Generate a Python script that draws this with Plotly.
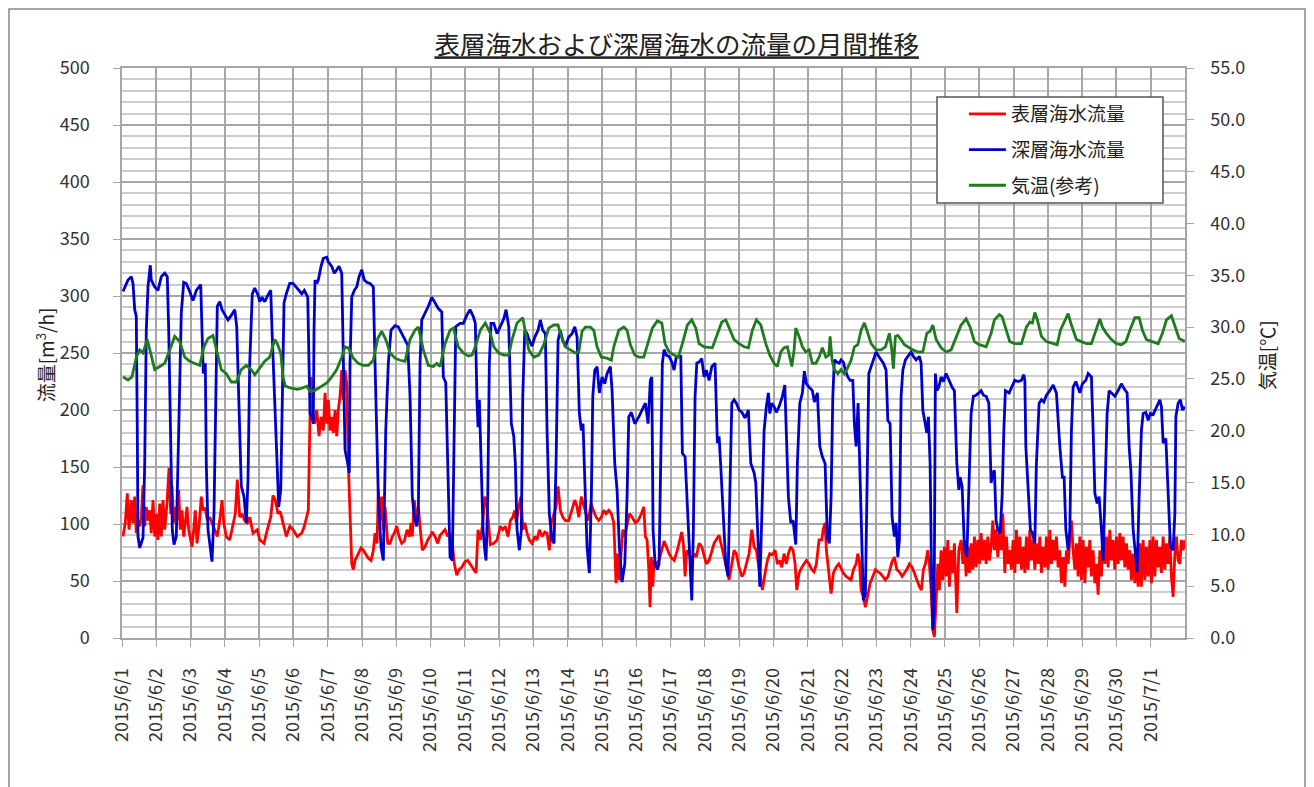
import pandas as pd
import plotly.graph_objects as go

# hours since 2015/6/1 00:00, value
surface_flow = [
    (0.7, 89), (2.3, 101), (3.7, 127), (4.9, 95), (6.5, 121), (7.7, 101), (8.9, 124), (10.0, 92),
    (11.2, 103), (12.4, 98), (13.5, 106), (14.7, 134), (15.9, 98), (17.0, 115), (18.2, 103), (19.4, 112),
    (20.5, 92), (21.7, 121), (22.9, 89), (24.0, 109), (25.2, 86), (26.4, 118), (27.5, 89), (28.7, 121),
    (29.9, 95), (31.5, 118), (32.9, 149), (34.1, 109), (35.0, 133), (36.2, 101), (37.3, 115), (38.5, 103),
    (39.7, 130), (40.8, 95), (42.0, 112), (43.2, 89), (44.3, 101), (45.5, 115), (46.7, 95), (47.8, 86),
    (49.0, 80), (50.2, 95), (51.3, 112), (52.5, 83), (53.9, 98), (55.5, 124), (56.7, 112), (58.3, 114),
    (59.7, 103), (61.4, 106), (63.0, 101), (64.9, 95), (66.7, 89), (68.4, 103), (70.0, 121), (71.2, 101),
    (73.0, 89), (75.4, 86), (77.7, 98), (79.3, 109), (80.7, 139), (82.4, 106), (84.0, 109), (85.9, 103),
    (87.7, 101), (89.4, 106), (91.7, 92), (94.7, 95), (96.4, 86), (99.4, 83), (101.7, 95), (104.1, 106),
    (105.7, 125), (107.3, 121), (109.2, 109), (110.8, 111), (112.7, 101), (115.0, 89), (117.4, 98), (119.7, 95),
    (122.7, 89), (125.8, 92), (127.6, 98), (129.3, 106), (130.4, 112), (131.4, 182), (132.3, 229), (133.3, 197),
    (134.7, 188), (136.3, 200), (137.9, 177), (139.3, 194), (140.9, 182), (142.1, 215), (143.3, 188), (144.4, 209),
    (145.6, 182), (146.8, 194), (147.9, 180), (149.1, 200), (150.3, 177), (151.4, 200), (152.6, 212), (153.8, 235),
    (154.9, 209), (156.1, 235), (157.3, 223), (158.4, 153), (159.6, 106), (160.8, 65), (161.9, 60), (163.1, 68),
    (165.4, 74), (167.3, 79), (168.9, 77), (170.6, 73), (172.4, 70), (174.3, 68), (175.9, 77), (177.1, 92),
    (178.5, 83), (179.4, 130), (180.6, 103), (181.8, 124), (182.9, 95), (184.1, 115), (186.0, 83), (187.6, 83),
    (189.2, 89), (190.6, 92), (192.3, 98), (193.9, 89), (195.8, 83), (197.6, 85), (199.5, 95), (201.1, 89),
    (202.3, 101), (203.2, 89), (204.6, 121), (206.0, 103), (207.4, 115), (208.8, 95), (210.2, 77), (212.1, 80),
    (214.0, 86), (215.6, 89), (217.2, 93), (219.1, 89), (221.0, 83), (222.6, 90), (224.2, 92), (226.1, 95),
    (228.0, 89), (229.6, 92), (231.2, 83), (232.6, 65), (234.3, 55), (235.9, 60), (237.8, 62), (240.1, 67),
    (242.0, 68), (243.6, 65), (245.9, 60), (247.8, 57), (249.2, 95), (250.8, 86), (252.5, 101), (253.9, 124),
    (255.5, 115), (256.7, 101), (257.8, 82), (260.2, 83), (262.5, 86), (264.8, 98), (266.5, 95), (268.3, 98),
    (270.2, 89), (271.8, 103), (273.5, 106), (274.9, 112), (276.0, 101), (277.7, 115), (279.3, 124), (280.5, 95),
    (281.9, 101), (283.5, 92), (285.1, 86), (287.0, 83), (288.9, 89), (290.5, 86), (292.1, 95), (294.0, 89),
    (295.9, 93), (297.5, 92), (299.1, 77), (300.5, 101), (302.2, 109), (303.8, 115), (305.2, 133), (306.8, 112),
    (308.5, 106), (310.3, 103), (312.7, 103), (315.0, 112), (316.9, 121), (318.5, 115), (319.7, 106), (321.5, 124),
    (323.2, 115), (324.8, 109), (326.4, 103), (328.3, 118), (329.9, 112), (331.8, 106), (333.7, 103), (335.5, 106),
    (337.2, 112), (338.8, 109), (340.7, 112), (342.5, 109), (344.2, 101), (344.9, 83), (345.8, 48), (346.7, 74),
    (348.1, 51), (349.5, 77), (350.5, 95), (351.9, 89), (353.5, 101), (355.1, 109), (357.0, 106), (359.3, 101),
    (361.2, 103), (363.5, 109), (365.2, 115), (366.3, 89), (367.5, 86), (368.7, 60), (369.6, 27), (370.5, 71),
    (371.5, 45), (372.4, 68), (374.0, 65), (375.9, 68), (377.8, 77), (379.4, 85), (381.0, 80), (382.9, 74),
    (384.8, 70), (386.5, 68), (388.7, 77), (390.4, 86), (391.7, 93), (392.9, 83), (394.1, 54), (395.3, 77),
    (396.9, 74), (398.8, 68), (400.4, 74), (402.0, 71), (403.9, 83), (405.8, 80), (407.4, 71), (409.0, 65),
    (410.9, 68), (412.8, 77), (414.4, 83), (416.3, 87), (417.9, 90), (419.8, 80), (421.4, 71), (423.0, 62),
    (424.9, 51), (426.8, 65), (428.4, 77), (430.0, 74), (431.9, 62), (433.8, 54), (435.4, 57), (437.0, 65),
    (438.9, 74), (440.8, 95), (442.4, 80), (444.0, 77), (445.9, 60), (447.3, 48), (448.2, 42), (450.1, 57),
    (451.7, 68), (453.4, 74), (455.2, 73), (457.1, 77), (458.7, 65), (460.4, 68), (461.8, 62), (463.4, 74),
    (465.0, 65), (466.4, 74), (468.1, 80), (469.7, 77), (471.1, 65), (472.3, 42), (473.9, 57), (475.8, 62),
    (477.4, 65), (479.0, 68), (480.9, 65), (482.8, 60), (484.4, 58), (486.0, 65), (487.9, 86), (489.8, 86),
    (490.7, 95), (492.1, 101), (493.0, 77), (494.4, 62), (496.3, 39), (497.9, 57), (499.8, 62), (501.7, 65),
    (503.3, 61), (504.9, 57), (506.8, 54), (508.7, 52), (510.3, 51), (511.9, 60), (513.8, 65), (515.0, 74),
    (516.1, 68), (517.3, 42), (518.9, 36), (520.3, 27), (522.0, 39), (523.6, 48), (525.5, 54), (527.3, 60),
    (529.0, 58), (530.6, 57), (532.5, 54), (534.3, 51), (536.2, 54), (537.6, 62), (539.0, 67), (540.6, 71),
    (542.3, 60), (544.1, 58), (546.0, 54), (547.6, 57), (549.3, 60), (551.1, 65), (553.0, 62), (554.6, 57),
    (556.3, 51), (558.1, 45), (559.5, 42), (560.9, 60), (562.3, 65), (564.0, 77), (565.1, 65), (566.3, 42),
    (567.5, 7), (568.6, 1), (571.0, 65), (572.1, 42), (573.3, 77), (574.5, 51), (575.6, 80), (576.8, 54),
    (578.0, 86), (579.1, 45), (580.3, 77), (581.5, 57), (582.6, 83), (584.3, 22), (585.7, 77), (587.3, 86),
    (588.5, 65), (589.6, 86), (590.8, 54), (592.0, 80), (593.1, 57), (594.3, 83), (595.5, 60), (596.6, 89),
    (597.8, 62), (599.0, 86), (600.1, 65), (601.3, 92), (602.5, 68), (603.6, 86), (604.8, 65), (606.0, 89),
    (607.1, 68), (608.3, 80), (609.5, 103), (610.6, 77), (611.8, 95), (613.0, 71), (614.1, 92), (615.3, 77),
    (616.5, 109), (617.9, 57), (619.0, 89), (620.2, 65), (621.4, 77), (622.5, 60), (623.7, 86), (624.9, 57),
    (626.0, 95), (627.2, 65), (628.4, 89), (629.5, 60), (630.7, 80), (631.9, 57), (633.0, 89), (634.2, 60),
    (635.4, 95), (636.5, 68), (637.7, 86), (638.9, 60), (640.0, 83), (641.2, 65), (642.4, 89), (643.5, 57),
    (644.7, 80), (645.9, 62), (647.0, 89), (648.2, 60), (649.4, 95), (650.5, 65), (651.7, 86), (652.9, 68),
    (654.0, 89), (655.2, 62), (656.4, 77), (657.5, 48), (658.7, 71), (659.9, 45), (661.0, 77), (662.2, 65),
    (663.4, 86), (664.5, 103), (665.7, 77), (666.9, 60), (668.0, 83), (669.2, 54), (670.4, 89), (671.5, 51),
    (672.7, 86), (673.9, 48), (675.0, 80), (676.2, 62), (677.4, 86), (678.5, 54), (679.7, 77), (680.9, 48),
    (682.0, 65), (683.2, 38), (684.4, 77), (685.5, 54), (686.7, 95), (687.9, 65), (689.0, 89), (690.2, 62),
    (691.4, 95), (692.5, 68), (693.7, 86), (694.9, 60), (696.0, 89), (697.2, 65), (698.4, 92), (699.5, 68),
    (700.7, 89), (701.9, 62), (703.0, 83), (704.2, 60), (705.4, 77), (706.5, 51), (707.7, 74), (708.9, 48),
    (710.0, 77), (711.2, 45), (712.4, 83), (713.5, 45), (714.7, 86), (715.9, 51), (717.0, 80), (718.2, 54),
    (719.4, 86), (720.5, 48), (721.7, 89), (722.9, 54), (724.0, 86), (725.2, 62), (726.4, 80), (727.5, 57),
    (728.7, 89), (729.9, 60), (731.0, 83), (732.2, 65), (733.4, 89), (734.5, 54), (735.7, 36), (736.9, 74),
    (738.0, 89), (739.2, 68), (740.4, 65), (741.5, 86), (742.7, 77), (743.9, 86),
]

deep_flow = [
    (0.7, 304), (4.2, 314), (6.5, 317), (7.7, 311), (8.9, 288), (10.0, 282), (10.7, 182), (11.2, 89),
    (12.4, 79), (14.7, 88), (15.9, 153), (17.0, 270), (18.2, 308), (19.8, 327), (20.5, 314), (22.9, 308),
    (25.2, 305), (27.5, 317), (29.9, 320), (31.7, 317), (32.7, 270), (34.1, 182), (35.2, 95), (36.4, 82),
    (38.0, 89), (39.7, 182), (41.5, 285), (43.2, 312), (45.0, 311), (47.4, 304), (49.7, 296), (52.0, 305),
    (55.1, 310), (56.0, 270), (56.9, 232), (58.3, 241), (59.0, 153), (60.2, 95), (62.1, 77), (63.0, 67),
    (64.4, 110), (65.6, 226), (66.7, 291), (68.4, 295), (70.0, 288), (72.3, 283), (74.2, 279), (76.5, 283),
    (78.9, 288), (80.3, 273), (81.7, 212), (83.5, 133), (85.4, 124), (87.0, 101), (88.2, 139), (89.4, 241),
    (91.2, 302), (92.9, 307), (95.2, 301), (96.4, 295), (98.0, 299), (99.9, 295), (102.2, 301), (104.1, 305),
    (105.0, 270), (106.9, 212), (108.3, 153), (109.7, 115), (111.1, 130), (112.2, 212), (113.4, 294), (115.0, 302),
    (117.4, 311), (119.7, 311), (123.4, 305), (125.8, 302), (127.6, 305), (130.0, 299), (130.9, 241), (131.6, 197),
    (132.8, 194), (133.9, 188), (134.4, 270), (135.1, 314), (136.3, 311), (137.4, 314), (139.3, 326), (140.9, 333),
    (143.3, 334), (144.4, 330), (146.8, 326), (148.6, 320), (150.3, 323), (151.9, 326), (153.8, 320), (154.9, 241),
    (156.1, 165), (158.0, 153), (159.1, 145), (159.6, 241), (160.8, 299), (162.6, 305), (164.3, 308), (165.9, 317),
    (167.8, 323), (169.6, 314), (171.3, 312), (173.6, 311), (175.9, 308), (177.1, 241), (179.4, 124), (181.3, 80),
    (182.9, 68), (184.6, 182), (186.4, 241), (188.3, 270), (191.1, 274), (193.4, 273), (195.8, 267), (198.1, 261),
    (200.0, 257), (201.6, 212), (203.2, 124), (204.6, 106), (206.3, 98), (207.4, 110), (208.6, 241), (209.8, 279),
    (212.1, 285), (214.4, 291), (216.8, 299), (219.1, 294), (221.4, 289), (223.8, 286), (224.9, 229), (226.6, 224),
    (228.0, 153), (229.6, 71), (231.2, 68), (232.6, 212), (233.6, 273), (236.6, 276), (238.9, 276), (241.3, 283),
    (243.6, 288), (245.9, 282), (247.3, 276), (248.5, 206), (249.2, 185), (250.1, 209), (251.5, 153), (252.7, 95),
    (253.9, 77), (254.8, 68), (256.0, 124), (257.1, 241), (258.3, 276), (260.2, 276), (262.5, 267), (264.8, 273),
    (267.2, 280), (268.8, 288), (270.7, 273), (272.5, 188), (274.2, 177), (275.3, 153), (276.5, 95), (278.1, 77),
    (279.5, 95), (280.5, 212), (281.9, 270), (283.5, 267), (285.1, 261), (287.0, 256), (288.9, 264), (291.2, 270),
    (292.8, 279), (294.5, 270), (296.3, 267), (297.5, 182), (299.1, 109), (301.0, 86), (302.4, 83), (303.8, 153),
    (305.2, 261), (306.8, 270), (308.5, 261), (310.3, 256), (312.7, 264), (315.0, 267), (316.9, 273), (318.5, 264),
    (320.1, 197), (321.5, 182), (322.7, 188), (323.9, 139), (325.5, 80), (327.1, 57), (328.5, 124), (329.5, 212),
    (330.9, 235), (332.5, 238), (334.1, 215), (336.0, 229), (337.9, 223), (339.5, 232), (341.8, 238), (343.0, 217),
    (344.9, 153), (346.5, 130), (348.1, 80), (350.0, 49), (351.9, 65), (353.5, 124), (354.7, 194), (356.5, 198),
    (358.9, 188), (361.7, 194), (364.0, 200), (366.3, 206), (368.2, 188), (369.8, 226), (370.8, 229), (371.7, 95),
    (373.1, 65), (374.7, 60), (375.9, 65), (377.1, 153), (378.2, 241), (379.4, 253), (381.0, 248), (382.9, 247),
    (384.8, 242), (386.4, 235), (388.0, 247), (391.1, 247), (392.2, 162), (394.1, 159), (395.7, 118), (397.4, 71),
    (398.8, 33), (399.9, 95), (401.1, 212), (402.3, 241), (403.9, 242), (405.8, 245), (407.4, 229), (409.0, 235),
    (410.9, 226), (412.8, 238), (415.1, 241), (416.7, 171), (417.9, 177), (419.1, 150), (420.7, 109), (422.6, 65),
    (424.2, 54), (425.4, 124), (426.8, 206), (428.4, 209), (430.0, 206), (431.9, 200), (433.8, 198), (436.1, 193),
    (438.4, 200), (440.1, 153), (442.4, 145), (443.6, 136), (444.7, 95), (446.4, 45), (448.2, 124), (449.4, 182),
    (451.0, 203), (452.4, 215), (453.4, 197), (454.8, 206), (456.4, 203), (458.0, 198), (459.9, 203), (462.2, 212),
    (463.9, 222), (465.0, 182), (466.4, 124), (468.1, 101), (469.7, 103), (471.6, 82), (472.7, 153), (474.4, 206),
    (476.2, 215), (477.6, 234), (479.0, 223), (480.9, 220), (483.2, 217), (484.6, 207), (486.7, 215), (488.4, 168),
    (490.2, 159), (492.1, 153), (493.7, 88), (495.1, 83), (496.3, 124), (497.5, 212), (498.6, 244), (500.3, 242),
    (502.1, 241), (503.3, 244), (504.9, 242), (506.3, 235), (508.0, 229), (509.6, 226), (511.5, 226), (512.6, 188),
    (513.8, 168), (515.2, 206), (516.1, 168), (517.3, 95), (518.9, 33), (520.3, 39), (521.5, 153), (522.7, 232),
    (524.3, 238), (525.9, 244), (527.8, 251), (529.7, 247), (531.3, 244), (532.9, 241), (534.8, 235), (536.0, 191),
    (537.6, 188), (539.0, 106), (540.6, 89), (541.8, 101), (543.0, 71), (544.1, 86), (545.3, 212), (546.5, 235),
    (548.3, 244), (550.0, 247), (552.3, 251), (553.9, 247), (555.8, 244), (558.1, 247), (559.3, 241), (560.5, 200),
    (562.1, 188), (563.3, 180), (564.4, 194), (565.6, 153), (566.5, 65), (567.5, 7), (568.4, 22), (569.3, 232),
    (570.3, 217), (571.7, 220), (573.3, 229), (574.9, 225), (576.8, 232), (578.7, 226), (581.0, 220), (582.6, 217),
    (584.3, 153), (585.7, 130), (586.6, 141), (588.0, 133), (589.6, 80), (591.3, 71), (592.7, 124), (594.3, 197),
    (595.9, 212), (597.8, 213), (599.7, 215), (601.3, 217), (602.9, 213), (604.8, 212), (606.7, 206), (608.3, 136),
    (609.5, 145), (610.6, 147), (611.8, 103), (613.0, 95), (614.6, 92), (616.0, 124), (617.2, 182), (618.3, 217),
    (620.9, 215), (622.5, 220), (624.9, 226), (627.2, 225), (629.5, 226), (631.2, 231), (631.9, 226), (632.6, 168),
    (634.2, 136), (635.8, 95), (637.2, 92), (638.9, 83), (640.0, 153), (641.9, 206), (643.5, 209), (645.2, 207),
    (647.0, 213), (649.4, 217), (651.7, 222), (654.0, 215), (656.4, 168), (658.2, 141), (659.4, 141), (660.6, 95),
    (662.2, 77), (663.4, 95), (664.5, 182), (665.7, 220), (667.6, 225), (669.2, 220), (670.4, 215), (672.2, 223),
    (674.6, 226), (676.2, 232), (678.5, 229), (679.7, 182), (680.9, 127), (682.5, 118), (683.9, 124), (685.5, 95),
    (686.7, 68), (687.9, 124), (689.5, 197), (690.9, 217), (692.5, 215), (694.9, 212), (697.2, 217), (699.5, 223),
    (701.2, 219), (703.5, 215), (704.9, 168), (706.1, 147), (707.7, 95), (709.6, 65), (710.5, 58), (711.9, 124),
    (713.5, 182), (714.7, 197), (716.6, 198), (718.2, 191), (719.8, 197), (721.7, 196), (724.0, 203), (726.4, 209),
    (727.5, 203), (728.7, 171), (730.6, 175), (732.2, 124), (733.8, 80), (735.7, 77), (736.9, 109), (737.6, 194),
    (739.2, 206), (740.8, 209), (742.2, 200), (743.9, 203),
]

air_temp = [
    (0.7, 25.2), (4.2, 24.9), (7.0, 25.2), (10.0, 27.1), (12.4, 27.8), (14.7, 27.5), (17.7, 28.8), (20.5, 27.1),
    (22.9, 25.9), (26.4, 26.2), (29.9, 26.5), (33.4, 27.8), (36.9, 29.1), (40.4, 28.6), (43.9, 27.1), (47.4, 26.7),
    (50.9, 26.5), (54.4, 26.3), (57.4, 28.1), (60.2, 28.9), (63.7, 29.2), (66.7, 27.5), (69.5, 25.9), (73.0, 25.5),
    (76.5, 24.7), (80.0, 24.7), (83.5, 25.9), (87.0, 26.3), (90.5, 25.9), (92.9, 25.4), (96.4, 26.0), (99.9, 26.7),
    (103.4, 27.1), (106.9, 28.8), (108.7, 28.4), (111.1, 27.5), (112.7, 25.2), (114.3, 24.3), (118.5, 24.1), (122.7, 24.0),
    (125.8, 24.1), (129.3, 24.3), (131.6, 23.8), (135.1, 23.9), (139.8, 24.3), (143.3, 24.6), (146.8, 25.2), (150.3, 25.9),
    (153.8, 27.1), (156.1, 28.1), (158.4, 28.0), (161.9, 27.0), (165.4, 26.5), (168.9, 26.3), (172.4, 26.3), (175.9, 26.8),
    (179.0, 28.9), (181.8, 29.6), (184.6, 28.8), (187.6, 27.5), (191.1, 27.0), (194.6, 26.8), (198.1, 26.7), (201.6, 28.8),
    (205.1, 29.7), (207.4, 30.0), (210.9, 27.8), (214.4, 26.3), (217.9, 26.2), (220.3, 26.5), (222.6, 26.2), (226.1, 28.4),
    (229.6, 29.7), (231.9, 29.9), (235.4, 28.1), (238.9, 27.5), (242.4, 27.2), (245.0, 27.3), (247.3, 28.1), (250.8, 29.7),
    (254.3, 30.4), (257.8, 29.4), (260.2, 28.1), (263.7, 27.5), (267.2, 27.3), (270.7, 27.3), (273.0, 28.8), (276.5, 30.4),
    (280.5, 30.9), (282.3, 29.4), (284.7, 27.8), (288.2, 27.1), (291.7, 27.3), (295.2, 28.3), (298.7, 29.9), (302.2, 30.2),
    (305.2, 30.2), (307.5, 29.1), (310.3, 28.1), (313.8, 27.8), (317.3, 27.5), (319.7, 27.6), (322.0, 29.6), (324.3, 30.0),
    (327.8, 30.0), (330.2, 29.7), (332.5, 28.1), (335.5, 27.1), (339.5, 27.0), (342.5, 26.8), (344.2, 28.1), (347.7, 29.7),
    (351.2, 30.0), (353.5, 29.7), (355.8, 28.3), (358.9, 27.3), (361.7, 27.1), (365.2, 27.1), (368.2, 28.4), (371.2, 29.9),
    (374.7, 30.6), (377.8, 30.4), (380.1, 28.4), (382.9, 27.6), (386.4, 27.3), (389.4, 27.1), (392.2, 28.4), (395.7, 30.2),
    (398.8, 30.7), (401.6, 29.9), (403.9, 28.4), (407.4, 28.1), (413.2, 28.0), (416.7, 29.4), (419.8, 30.5), (422.6, 30.7),
    (424.9, 30.0), (428.4, 28.8), (431.9, 28.4), (435.4, 28.1), (438.4, 28.0), (441.2, 29.7), (444.0, 30.7), (447.1, 30.2),
    (450.6, 28.4), (453.4, 27.3), (456.4, 26.5), (458.7, 26.2), (461.1, 27.6), (463.4, 28.0), (465.7, 28.1), (467.4, 27.1),
    (468.8, 26.2), (470.4, 27.8), (471.6, 29.9), (473.9, 29.1), (476.2, 28.1), (478.6, 27.6), (480.9, 27.8), (483.2, 26.5),
    (485.6, 26.5), (487.9, 27.1), (490.2, 28.0), (492.6, 27.1), (494.7, 27.3), (495.6, 29.1), (497.0, 26.8), (498.6, 25.9),
    (501.0, 25.5), (503.3, 25.9), (505.6, 25.5), (507.3, 25.9), (510.3, 26.8), (512.6, 28.1), (515.0, 28.3), (517.3, 29.7),
    (519.6, 30.4), (522.0, 29.4), (524.3, 28.4), (527.8, 27.8), (531.3, 27.8), (534.3, 28.1), (537.1, 29.4), (538.8, 27.8),
    (539.9, 26.0), (541.3, 29.1), (543.0, 29.2), (545.3, 28.8), (547.6, 28.3), (550.0, 28.1), (553.5, 27.8), (557.0, 27.6),
    (560.5, 27.6), (563.3, 29.4), (565.6, 29.6), (567.5, 30.2), (569.8, 28.8), (573.3, 28.0), (576.8, 27.6), (580.3, 27.8),
    (583.8, 29.1), (587.3, 30.2), (590.8, 30.8), (593.6, 30.0), (596.6, 28.6), (600.1, 28.3), (604.8, 28.1), (608.3, 29.4),
    (610.6, 30.7), (614.1, 31.2), (616.0, 31.0), (619.0, 29.7), (621.4, 28.6), (624.9, 28.4), (629.5, 28.4), (633.0, 30.0),
    (635.4, 30.5), (637.2, 30.4), (638.9, 31.4), (640.7, 30.7), (643.5, 29.1), (647.0, 28.6), (651.7, 28.4), (654.5, 28.3),
    (656.8, 29.7), (659.9, 30.7), (662.2, 31.3), (664.5, 30.2), (668.0, 28.8), (671.5, 28.6), (675.0, 28.4), (678.5, 28.4),
    (681.6, 29.7), (684.4, 30.8), (686.2, 30.0), (689.0, 29.4), (692.5, 28.8), (696.0, 28.4), (699.5, 28.3), (702.6, 28.6),
    (705.4, 29.7), (708.9, 30.9), (711.9, 30.9), (714.2, 29.7), (717.0, 28.8), (720.5, 28.6), (725.2, 28.4), (728.2, 29.4),
    (731.0, 30.7), (734.5, 31.1), (736.9, 30.2), (739.9, 28.9), (743.9, 28.6),
]

tick_days = list(range(31))
tick_labels = [f"2015/6/{d}" for d in range(1, 31)] + ["2015/7/1"]

start = pd.Timestamp("2015-06-01")


def to_xy(series):
    hrs, vals = zip(*series)
    return start + pd.to_timedelta(list(hrs), unit="h"), list(vals)


font_jp = "Noto Sans CJK JP"
grid = "#a6a6a6"
colors = {"surface": "#ff0000", "deep": "#0000cc", "temp": "#1e7b1e"}

fig = go.Figure()
x, y = to_xy(surface_flow)
fig.add_trace(go.Scatter(x=x, y=y, name="表層海水流量", mode="lines", legendgroup="a",
                         line=dict(color=colors["surface"], width=2.8)))
x, y = to_xy(deep_flow)
fig.add_trace(go.Scatter(x=x, y=y, name="深層海水流量", mode="lines", legendgroup="b",
                         line=dict(color=colors["deep"], width=2.8)))
x, y = to_xy(air_temp)
fig.add_trace(go.Scatter(x=x, y=y, name="気温(参考)", mode="lines", legendgroup="c", yaxis="y2",
                         line=dict(color=colors["temp"], width=2.8)))

tickvals = [start + pd.Timedelta(days=d) for d in tick_days]

fig.update_layout(
    width=1306, height=779,
    margin=dict(l=114, r=129, t=60, b=149),
    paper_bgcolor="white", plot_bgcolor="white",
    font=dict(family=font_jp, color="#333333", size=18),
    title=dict(text="<u>表層海水および深層海水の流量の月間推移</u>", x=0.512, xanchor="center",
               y=0.952, yanchor="middle", font=dict(size=25.5, color="#222222")),
    xaxis=dict(range=[start, start + pd.Timedelta(days=31)], tickvals=tickvals, ticktext=tick_labels,
               tickangle=-90, showgrid=True, gridcolor=grid, gridwidth=1.5,
               showline=True, linecolor=grid, linewidth=1.5, mirror=True,
               ticks="outside", ticklen=7, tickcolor=grid, ticklabelstandoff=14, zeroline=False),
    yaxis=dict(range=[0, 500], dtick=50, showgrid=True, gridcolor=grid, gridwidth=1.5,
               minor=dict(dtick=10, showgrid=True, gridcolor="#cccccc", gridwidth=1.5),
               showline=True, linecolor=grid, linewidth=1.5,
               ticks="outside", ticklen=7, tickcolor=grid, ticklabelstandoff=20, zeroline=False),
    yaxis2=dict(range=[0, 55], dtick=5, tickformat=".1f", overlaying="y", side="right",
                showgrid=False, showline=True, linecolor=grid, linewidth=1.5,
                ticks="outside", ticklen=7, tickcolor=grid, ticklabelstandoff=13, zeroline=False),
    legend=dict(x=0.792, y=0.9526, xanchor="left", yanchor="top", bgcolor="rgba(0,0,0,0)",
                itemwidth=37, font=dict(size=19, color="#222222"), tracegroupgap=8),
    showlegend=True,
)

# legend frame and outer chart frame
fig.add_shape(type="rect", xref="paper", yref="paper", x0=0.7667, x1=0.9793, y0=0.763, y1=0.9491,
              line=dict(color="#555555", width=1.5), fillcolor="white", layer="above")
fig.add_shape(type="rect", xref="paper", yref="paper", x0=-0.1063, x1=1.1129, y0=-0.30, y1=1.1035,
              line=dict(color="#888888", width=1.5), fillcolor="rgba(0,0,0,0)", layer="below")

fig.add_annotation(text="流量[m<sup>3</sup>/h]", textangle=-90, xref="paper", yref="paper",
                   x=-0.0724, y=0.496, xanchor="center", yanchor="middle", showarrow=False,
                   font=dict(size=19, color="#222222"))
fig.add_annotation(text="気温[℃]", textangle=-90, xref="paper", yref="paper",
                   x=1.0762, y=0.496, xanchor="center", yanchor="middle", showarrow=False,
                   font=dict(size=19, color="#222222"))

fig.write_html("out.html")
